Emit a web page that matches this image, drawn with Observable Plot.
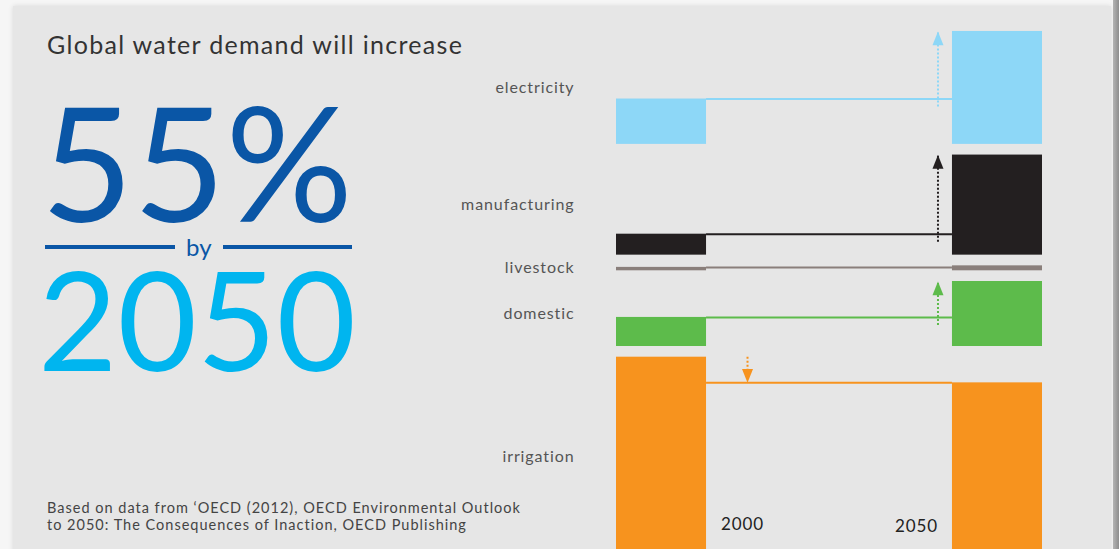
<!DOCTYPE html>
<html>
<head>
<meta charset="utf-8">
<script src="https://cdn.jsdelivr.net/npm/d3@7"></script>
<script src="https://cdn.jsdelivr.net/npm/@observablehq/plot@0.6"></script>
<style>
html, body { margin: 0; padding: 0; width: 1119px; height: 549px; overflow: hidden; background: #f6f6f6; font-family: Lato, "Open Sans", sans-serif; }
#panel { position: absolute; left: 13px; top: 6px; width: 1098px; height: 600px; background: #e6e6e6; box-shadow: 0 0 5px rgba(0,0,0,0.12); }
#edge { position: absolute; left: 1113px; top: 0; width: 6px; height: 549px; background: linear-gradient(to right, #b4b4b4, #8e8e8e); }
#chart { position: absolute; left: 0; top: 0; }
#chart text { letter-spacing: 0.9px; }
.t { position: absolute; white-space: nowrap; line-height: 1; font-style: normal; }
#title { left: 47px; top: 32px; font-size: 25px; letter-spacing: 1.3px; color: #333; }
#big1 { left: 41px; top: 97px; font-size: 159px; line-height: 0.8; font-weight: 400; color: #0a56a6; }
#by { left: 186px; top: 235px; font-size: 24px; color: #0a56a6; }
#big2 { left: 38px; top: 264px; font-size: 137px; line-height: 0.8; font-weight: 400; color: #00b5ef; }
.rule { position: absolute; height: 4px; top: 245px; background: #0a56a6; }
#caption { left: 47px; top: 499px; font-size: 14.5px; letter-spacing: 1px; line-height: 17px; color: #444; }
</style>
</head>
<body>
<div id="panel"></div>
<div id="edge"></div>
<div id="chart"></div>
<div class="t" id="title">Global water demand will increase</div>
<div class="t" id="big1">55%</div>
<div class="rule" style="left:45px;width:130px"></div>
<div class="t" id="by">by</div>
<div class="rule" style="left:223px;width:129px"></div>
<div class="t" id="big2">2050</div>
<div class="t" id="caption">Based on data from ‘OECD (2012), OECD Environmental Outlook<br>to 2050: The Consequences of Inaction, OECD Publishing</div>
<script>
// Water demand (km³)
const sectors = ["irrigation", "domestic", "livestock", "manufacturing", "electricity"];
const demand2000 = [2330, 340, 40, 245, 530];
const demand2050 = [2030, 760, 58, 1170, 1320];
const sectorColors = ["#f7931e", "#5dbb4b", "#8a7f7b", "#231f20", "#8dd7f7"];
const years = [2000, 2050];

const GAP = 125;        // spacing between sector bands (km³)
const HALF = 6.7;       // half bar width (years)
const MIN_CHANGE = 100; // changes smaller than this get no arrow

let acc = 0;
const rows = sectors.map((sector, i) => {
  const r = {sector, base: acc, v2000: demand2000[i], v2050: demand2050[i]};
  acc += Math.max(r.v2000, r.v2050) + GAP;
  return r;
});
const bars = rows.flatMap(r => years.map(year => ({
  sector: r.sector, year, y1: r.base, y2: r.base + (year === years[0] ? r.v2000 : r.v2050)
})));
const up = rows.filter(r => r.v2050 - r.v2000 > MIN_CHANGE);
const down = rows.filter(r => r.v2000 - r.v2050 > MIN_CHANGE);

const arrowHead = {
  draw(context, size) {
    const r = Math.sqrt(size / Math.PI);
    context.moveTo(0, 0);
    context.lineTo(-r, 2.5 * r);
    context.lineTo(r, 2.5 * r);
    context.closePath();
  }
};

const chart = Plot.plot({
  width: 1119, height: 549,
  marginLeft: 616, marginRight: 77, marginTop: 0, marginBottom: 0,
  style: {background: "transparent", fontFamily: "Lato, 'Open Sans', sans-serif", overflow: "hidden"},
  x: {domain: [years[0] - HALF, years[1] + HALF], axis: null},
  y: {domain: [0, 6500], range: [556, 0], axis: null},
  color: {domain: sectors, range: sectorColors},
  marks: [
    Plot.rectY(bars, {x1: d => d.year - HALF, x2: d => d.year + HALF, y1: "y1", y2: "y2", fill: "sector", clip: true}),
    Plot.ruleY(rows, {y: d => d.base + Math.min(d.v2000, d.v2050), x1: () => years[0] + HALF, x2: () => years[1] - HALF, stroke: "sector", strokeWidth: 2}),
    Plot.ruleX(up, {x: () => years[1], y1: d => d.base + d.v2000, y2: d => d.base + d.v2050, stroke: "sector", strokeWidth: 2, strokeDasharray: "2,2", dx: -59.5, insetTop: 8}),
    Plot.dot(up, {x: () => years[1], y: d => d.base + d.v2050, fill: "sector", stroke: "none", symbol: arrowHead, r: 5.5, dx: -59.5}),
    Plot.ruleX(down, {x: () => years[0], y1: d => d.base + d.v2000, y2: d => d.base + d.v2050, stroke: "sector", strokeWidth: 2, strokeDasharray: "2,2", dx: 86, insetBottom: 8}),
    Plot.dot(down, {x: () => years[0], y: d => d.base + d.v2050, fill: "sector", stroke: "none", symbol: arrowHead, r: 5.5, rotate: 180, dx: 86}),
    Plot.text(rows, {x: () => years[0] - HALF, y: d => d.base + Math.max(d.v2000, d.v2050) / 2, text: "sector", textAnchor: "end", dx: -42, fontSize: 16, fill: "#555"}),
    Plot.text([years[0]], {x: d => d, frameAnchor: "bottom", dy: -20, dx: 81, text: d => String(d), fontSize: 17, fill: "#222"}),
    Plot.text([years[1]], {x: d => d, frameAnchor: "bottom", dy: -18, dx: -81, text: d => String(d), fontSize: 17, fill: "#222"})
  ]
});
document.getElementById("chart").appendChild(chart);
</script>
</body>
</html>
